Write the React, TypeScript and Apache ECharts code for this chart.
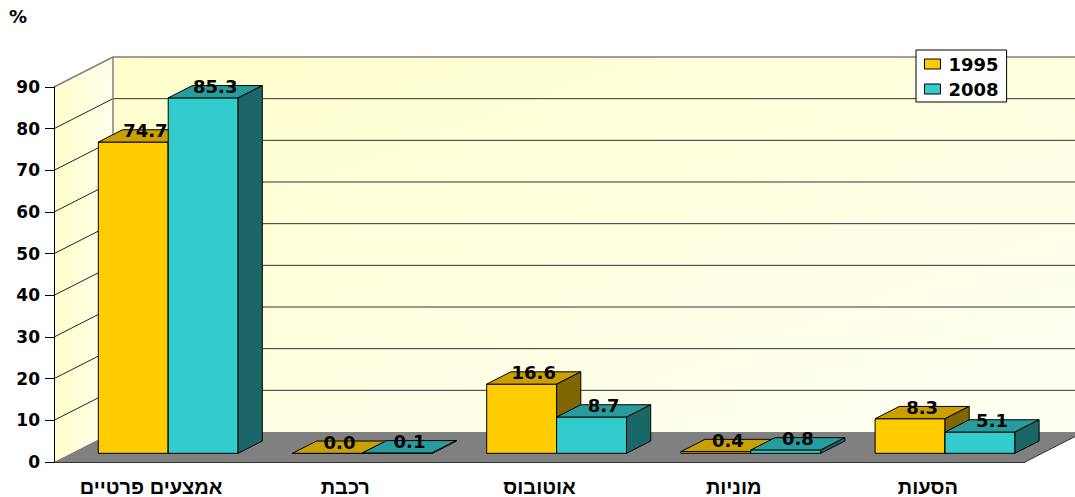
import React, { useEffect, useRef } from 'react';
import * as echarts from 'echarts';

const categories = ['אמצעים פרטיים', 'רכבת', 'אוטובוס', 'מוניות', 'הסעות'];
const values1995 = [74.7, 0.0, 16.6, 0.4, 8.3];
const values2008 = [85.3, 0.1, 8.7, 0.8, 5.1];
const seriesNames = ['1995', '2008'];
const yTicks = [0, 10, 20, 30, 40, 50, 60, 70, 80, 90];
const yMax = 90;

const FONT = '"DejaVu Sans", "Liberation Sans", Arial, sans-serif';
const HEB_FONT = '"Liberation Sans", Arial, sans-serif';
const WALL_DX = 59;
const WALL_DY = -30;
const BAR_FRONT = 0.29;
const BAR_BACK = 0.7;
const BAR_W_RATIO = 0.36;

const palettes = [
  { front: '#FFCC00', top: '#C9A000', side: '#7F6600' },
  { front: '#33CCCC', top: '#279C9C', side: '#1B6666' },
];

function wallsRenderItem(params: any, api: any) {
  const bandW = api.size([1, 0])[0];
  const p0 = api.coord([0, 0]);
  const pN = api.coord([categories.length - 1, 0]);
  const x0 = p0[0] - bandW / 2;
  const xr = pN[0] + bandW / 2;
  const yb = p0[1];
  const yt = api.coord([0, yMax])[1];
  const children: any[] = [];
  children.push({
    type: 'polygon',
    shape: {
      points: [
        [x0 + WALL_DX, yt + WALL_DY],
        [xr + WALL_DX + 40, yt + WALL_DY],
        [xr + WALL_DX + 40, yb + WALL_DY],
        [x0 + WALL_DX, yb + WALL_DY],
      ],
    },
    style: {
      fill: new echarts.graphic.LinearGradient(0, 0, 1, 1, [
        { offset: 0, color: '#FFFFCC' },
        { offset: 1, color: '#FFFFF6' },
      ]),
    },
  });
  children.push({
    type: 'polygon',
    shape: {
      points: [
        [x0, yt],
        [x0 + WALL_DX, yt + WALL_DY],
        [x0 + WALL_DX, yb + WALL_DY],
        [x0, yb],
      ],
    },
    style: {
      fill: new echarts.graphic.LinearGradient(0, 0, 1, 0, [
        { offset: 0, color: '#FFFFCC' },
        { offset: 1, color: '#FFFFEC' },
      ]),
    },
  });
  yTicks.forEach((t) => {
    if (t === 0 || t === yMax) return;
    const y = api.coord([0, t])[1];
    children.push({
      type: 'line',
      shape: { x1: x0, y1: y, x2: x0 + WALL_DX, y2: y + WALL_DY },
      style: { stroke: '#222', lineWidth: 1 },
    });
    children.push({
      type: 'line',
      shape: { x1: x0 + WALL_DX, y1: y + WALL_DY, x2: xr + WALL_DX + 40, y2: y + WALL_DY },
      style: { stroke: '#333', lineWidth: 1 },
    });
  });
  children.push({
    type: 'polyline',
    shape: {
      points: [
        [x0, yt],
        [x0 + WALL_DX, yt + WALL_DY],
        [xr + WALL_DX + 40, yt + WALL_DY],
      ],
    },
    style: { stroke: '#808080', lineWidth: 1.5, fill: 'none' },
  });
  children.push({
    type: 'line',
    shape: { x1: x0 + WALL_DX, y1: yt + WALL_DY, x2: x0 + WALL_DX, y2: yb + WALL_DY },
    style: { stroke: '#808080', lineWidth: 1.5 },
  });
  children.push({
    type: 'polygon',
    shape: {
      points: [
        [x0, yb],
        [xr, yb],
        [xr + WALL_DX, yb + WALL_DY],
        [x0 + WALL_DX, yb + WALL_DY],
      ],
    },
    style: { fill: '#808080' },
  });
  children.push({
    type: 'line',
    shape: { x1: xr, y1: yb, x2: xr + WALL_DX, y2: yb + WALL_DY },
    style: { stroke: '#333', lineWidth: 1 },
  });
  return { type: 'group', children };
}

function makeBarRenderItem(seriesIdx: number) {
  const pal = palettes[seriesIdx];
  return (params: any, api: any) => {
    const idx = api.value(0);
    const val = api.value(1);
    const bandW = api.size([1, 0])[0];
    const base = api.coord([idx, 0]);
    const top = api.coord([idx, val]);
    const barW = bandW * BAR_W_RATIO;
    const fdx = WALL_DX * BAR_FRONT;
    const fdy = WALL_DY * BAR_FRONT;
    const bdx = WALL_DX * (BAR_BACK - BAR_FRONT);
    const bdy = WALL_DY * (BAR_BACK - BAR_FRONT);
    const xl = base[0] + fdx + (seriesIdx === 0 ? -barW : 0);
    const xr = xl + barW;
    const yb = base[1] + fdy;
    const yt = top[1] + fdy;
    const stroke = { stroke: '#000', lineWidth: 1 };
    return {
      type: 'group',
      children: [
        {
          type: 'polygon',
          shape: { points: [[xl, yb], [xr, yb], [xr, yt], [xl, yt]] },
          style: { fill: pal.front, ...stroke },
        },
        {
          type: 'polygon',
          shape: { points: [[xl, yt], [xr, yt], [xr + bdx, yt + bdy], [xl + bdx, yt + bdy]] },
          style: { fill: pal.top, ...stroke },
        },
        {
          type: 'polygon',
          shape: { points: [[xr, yt], [xr + bdx, yt + bdy], [xr + bdx, yb + bdy], [xr, yb]] },
          style: { fill: pal.side, ...stroke },
        },
        {
          type: 'text',
          z2: 100,
          style: {
            text: Number(val).toFixed(1),
            x: (xl + xr) / 2 + bdx / 2,
            y: yt + bdy / 2 - 5,
            align: 'center',
            verticalAlign: 'middle',
            fontFamily: FONT,
            fontWeight: 'bold',
            fontSize: 18,
            fill: '#000',
          },
        },
      ],
    };
  };
}

const option: any = {
  animation: false,
  title: {
    text: '%',
    left: 9,
    top: 7,
    padding: 0,
    textStyle: { fontFamily: FONT, fontWeight: 'bold', fontSize: 18, color: '#000' },
  },
  legend: {
    orient: 'vertical',
    left: 916,
    top: 50,
    padding: [4, 8, 3, 8],
    itemGap: 5,
    itemWidth: 16,
    itemHeight: 10,
    backgroundColor: '#fff',
    borderColor: '#000',
    borderWidth: 1,
    borderRadius: 0,
    icon: 'rect',
    textStyle: { fontFamily: FONT, fontWeight: 'bold', fontSize: 18, color: '#000', lineHeight: 20, padding: [0, 0, 0, 3] },
    data: seriesNames.map((n, i) => ({
      name: n,
      itemStyle: { color: palettes[i].front, borderColor: '#000', borderWidth: 1 },
    })),
  },
  grid: { left: 54, right: 50, top: 87, bottom: 35, containLabel: false },
  xAxis: {
    type: 'category',
    data: categories,
    z: 10,
    axisLine: { lineStyle: { color: '#333', width: 1 } },
    axisTick: { length: 5, lineStyle: { color: '#333' } },
    axisLabel: { fontFamily: HEB_FONT, fontWeight: 'bold', fontSize: 20, color: '#000', margin: 15 },
    splitLine: { show: false },
  },
  yAxis: {
    type: 'value',
    min: 0,
    max: yMax,
    interval: 10,
    z: 10,
    axisLine: { show: true, lineStyle: { color: '#000', width: 1 } },
    axisTick: { show: true, length: 9, lineStyle: { color: '#000' } },
    axisLabel: { fontFamily: FONT, fontWeight: 'bold', fontSize: 17, color: '#000', margin: 14 },
    splitLine: { show: false },
  },
  series: [
    {
      type: 'custom',
      name: 'walls',
      z: 1,
      silent: true,
      clip: false,
      renderItem: wallsRenderItem,
      data: [[0, 0]],
    },
    ...seriesNames.map((n, i) => ({
      type: 'custom',
      name: n,
      z: 2,
      clip: false,
      itemStyle: { color: palettes[i].front },
      renderItem: makeBarRenderItem(i),
      data: (i === 0 ? values1995 : values2008).map((v, k) => [k, v]),
    })),
  ],
};

export default function App() {
  const ref = useRef<HTMLDivElement>(null);
  useEffect(() => {
    document.body.style.margin = '0';
    const chart = echarts.init(ref.current!, null, { renderer: 'svg' });
    chart.setOption(option);
    return () => chart.dispose();
  }, []);
  return <div ref={ref} style={{ width: 1075, height: 497 }} />;
}
